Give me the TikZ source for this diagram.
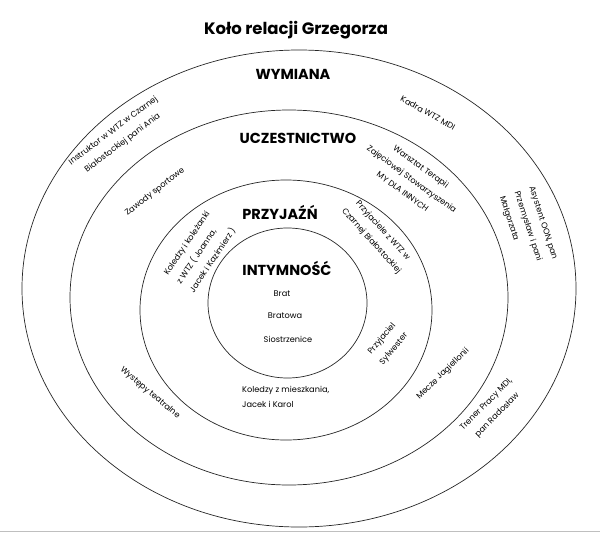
\documentclass[tikz,border=0pt]{standalone}
\usepackage{fontspec}
\setmainfont{Poppins}
\usetikzlibrary{positioning}

\begin{document}
\begin{tikzpicture}[x=1pt,y=-1pt]
\colorlet{ringline}{black!85}
\colorlet{edgegray}{black!25}
\tikzset{
  ring/.style={draw=ringline, line width=0.7pt},
  ringtitle/.style={font=\bfseries\fontsize{14.5}{16}\selectfont, inner sep=0pt},
  member/.style={font=\fontsize{8.2}{15.5}\selectfont, align=center, inner sep=0pt},
}
\useasboundingbox (0,0) rectangle (600,533);
\draw[edgegray] (0,531) -- (600,531);

% The four rings, from the outside in.
\draw[ring] (299,288.5) ellipse [x radius=277pt, y radius=238.5pt];
\draw[ring] (289,297.5) ellipse [x radius=219pt, y radius=187.5pt];
\draw[ring] (286,310) ellipse [x radius=146pt, y radius=130pt];
\draw[ring] (287.5,303) ellipse [x radius=79.5pt, y radius=75pt];

\node[font=\bfseries\fontsize{16.5}{18}\selectfont, inner sep=0pt] (title) at (296,30) {Koło relacji Grzegorza};

% Ring names.
\node[ringtitle] (wymiana) at (293,74) {WYMIANA};
\node[ringtitle] (uczestnictwo) at (298,138) {UCZESTNICTWO};
\node[ringtitle] (przyjazn) at (280,212) {PRZYJAŹŃ};
\node[ringtitle] (intymnosc) at (287,268) {INTYMNOŚĆ};

% Inside the inner ring.
\node[member] (brat) at (282,294) {Brat};
\node[member] (bratowa) at (285,316) {Bratowa};
\node[member] (siostrzenice) at (288,339) {Siostrzenice};

% Friendship ring.
\node[member, align=left, anchor=west] (mieszkanie) at (242,397) {Koledzy z mieszkania,\\Jacek i Karol};
\node[member, align=left, rotate=56] (koledzy) at (200,252) {Koledzy i koleżanki\\z WTZ ( Joanna,\\Jacek i Kazimierz )};
\node[member, rotate=-48] (przyjaciele) at (377,236) {Przyjaciele z WTZ w\\Czarnej Białostockiej};
\node[member, rotate=50] (sylwester) at (388,344) {Przyjaciel\\Sylwester};

% Participation ring.
\node[member, rotate=38] (zawody) at (155,192) {Zawody sportowe};
\node[member, rotate=-36] (warsztat) at (412,179) {Warsztat Terapii\\Zajęciowej Stowarzyszenia\\MY DLA INNYCH};
\node[member, rotate=44] (mecze) at (443,374) {Mecze Jagiellonii};
\node[member, rotate=-40] (wystepy) at (150,393) {Występy teatralne};

% Exchange ring.
\node[member, rotate=37] (instruktor) at (118,137) {Instruktor w WTZ w Czarnej\\Białostockiej pani Ania};
\node[member, rotate=-29] (kadra) at (428,113) {Kadra WTZ MDI};
\node[member, align=left, rotate=-72] (asystent) at (528,228) {Asystent OON, pan\\Przemysław i pani\\Małgorzata};
\node[member, rotate=45] (trener) at (492,410) {Trener Pracy MDI,\\pan Radosław};
\end{tikzpicture}
\end{document}
